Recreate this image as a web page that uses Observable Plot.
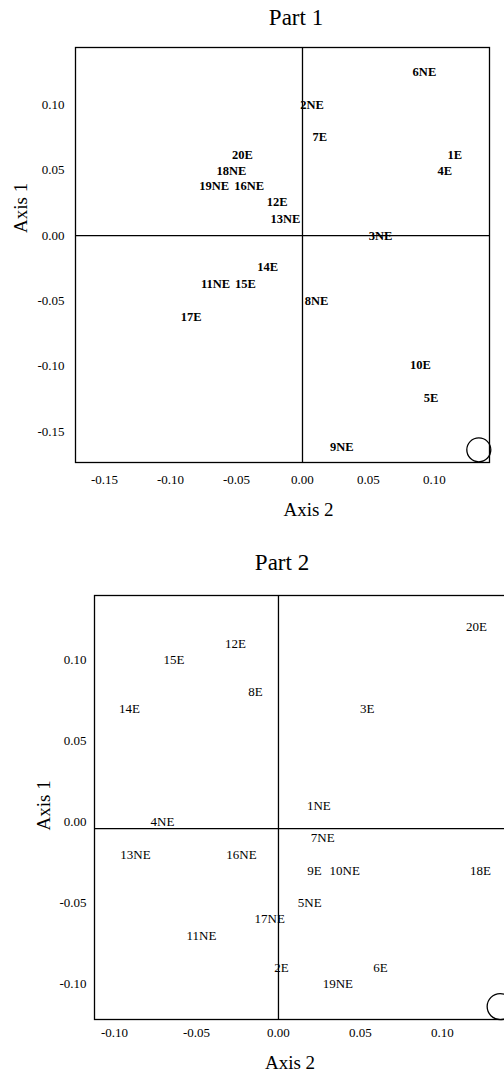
<!DOCTYPE html>
<html><head><meta charset="utf-8">
<script src="https://cdn.jsdelivr.net/npm/d3@7"></script>
<script src="https://cdn.jsdelivr.net/npm/@observablehq/plot@0.6"></script>
<style>
html,body{margin:0;padding:0;overflow:hidden;background:#fff;}
#root{position:relative;width:504px;height:1078px;overflow:hidden;font-family:'Liberation Serif','Times New Roman',serif;color:#000;}
.title{position:absolute;transform:translate(-50%,-50%);font-size:23px;white-space:nowrap;line-height:1;}
.chart{position:absolute;left:0;}
svg{max-width:none !important;}
</style></head><body><div id="root"></div>
<script>
// ---------- Part 1 data ----------
const part1Labels = ["6NE","2NE","7E","20E","1E","18NE","4E","19NE","16NE","12E","13NE","3NE","14E","11NE","15E","8NE","17E","10E","5E","9NE"];
const part1Axis2 = [0.0924,0.0073,0.0131,-0.0455,0.1154,-0.0538,0.1078,-0.0669,-0.0404,-0.0192,-0.0129,0.0591,-0.0263,-0.0659,-0.0432,0.0106,-0.0843,0.0894,0.0975,0.0298];
const part1Axis1 = [0.1256,0.1000,0.0753,0.0620,0.0620,0.0498,0.0498,0.0380,0.0380,0.0255,0.0128,0.0000,-0.0243,-0.0370,-0.0370,-0.0498,-0.0620,-0.0995,-0.1243,-0.1620];
const part1XTicks = [-0.15,-0.10,-0.05,0.00,0.05,0.10];
const part1YTicks = [-0.15,-0.10,-0.05,0.00,0.05,0.10];
const part1XDomain = [-0.1720,0.1417];
const part1YDomain = [-0.1738,0.1440];
const part1Origin = {x:0, y:0};
const part1Marker = [{x:0.1336, y:-0.1641}];

// ---------- Part 2 data ----------
const part2Labels = ["20E","12E","15E","8E","14E","3E","1NE","4NE","7NE","13NE","16NE","9E","10NE","18E","5NE","17NE","11NE","2E","6E","19NE"];
const part2Axis2 = [0.1207,-0.0262,-0.0638,-0.0140,-0.0909,0.0541,0.0246,-0.0707,0.0270,-0.0872,-0.0226,0.0220,0.0404,0.1232,0.0191,-0.0053,-0.0470,0.0018,0.0622,0.0362];
const part2Axis1 = [0.1204,0.1101,0.1004,0.0802,0.0700,0.0700,0.0103,0.0000,-0.0099,-0.0200,-0.0200,-0.0299,-0.0299,-0.0299,-0.0501,-0.0597,-0.0700,-0.0900,-0.0900,-0.0999];
const part2XTicks = [-0.10,-0.05,0.00,0.05,0.10];
const part2YTicks = [-0.10,-0.05,0.00,0.05,0.10];
const part2XDomain = [-0.1122,0.1409];
const part2YDomain = [-0.1219,0.1399];
const part2Origin = {x:0, y:-0.004};
const part2Marker = [{x:0.1352, y:-0.1139}];

const titles = ["Part 1","Part 2"];
const xLabel = "Axis 2";
const yLabel = "Axis 1";

const fmt = d => d.toFixed(2);
const root = document.getElementById("root");

function addTitle(text, left, top){
  const d = document.createElement("div");
  d.className = "title";
  d.textContent = text;
  d.style.left = left + "px";
  d.style.top = top + "px";
  root.appendChild(d);
}

function makeChart(o){
  const data = o.labels.map((l,i)=>({label:l, x:o.xs[i], y:o.ys[i]}));
  const svg = Plot.plot({
    width:o.width, height:o.height,
    marginTop:o.mt, marginBottom:o.mb, marginLeft:o.ml, marginRight:o.mr,
    style:{fontFamily:"'Liberation Serif','Times New Roman',serif", fontSize:"13px", background:"white", color:"black", maxWidth:"none"},
    x:{domain:o.xDomain, ticks:o.xTicks, tickFormat:fmt, tickSize:0, tickPadding:o.xPad, label:null},
    y:{domain:o.yDomain, ticks:o.yTicks, tickFormat:fmt, tickSize:0, tickPadding:o.yPad, label:null},
    marks:[
      Plot.frame({stroke:"black", strokeWidth:1.3}),
      Plot.ruleX([o.origin.x], {stroke:"black", strokeWidth:1.3}),
      Plot.ruleY([o.origin.y], {stroke:"black", strokeWidth:1.3}),
      Plot.dot(o.marker, {x:"x", y:"y", r:o.r, stroke:"black", fill:"none", strokeWidth:1.3}),
      Plot.text(data, {x:"x", y:"y", text:"label", fontSize:o.fs, fontWeight:o.fw, fill:"black"}),
      Plot.text([xLabel], {frameAnchor:"bottom", dx:o.xlDx, dy:o.xlDy, fontSize:19, fill:"black"}),
      Plot.text([yLabel], {frameAnchor:"left", dx:o.ylDx, dy:o.ylDy, rotate:-90, fontSize:19, fill:"black"})
    ]
  });
  svg.classList.add("chart");
  svg.style.top = o.top + "px";
  root.appendChild(svg);
}

addTitle(titles[0], 296, 17);
makeChart({labels:part1Labels, xs:part1Axis2, ys:part1Axis1, xDomain:part1XDomain, yDomain:part1YDomain,
  xTicks:part1XTicks, yTicks:part1YTicks, origin:part1Origin, marker:part1Marker, r:12,
  width:504, height:495, mt:13, mb:67, ml:75, mr:15, top:34, xPad:12, yPad:11,
  fs:12.5, fw:"bold", xlDx:26, xlDy:53, ylDx:-55, ylDy:-22});

addTitle(titles[1], 282, 562);
makeChart({labels:part2Labels, xs:part2Axis2, ys:part2Axis1, xDomain:part2XDomain, yDomain:part2YDomain,
  xTicks:part2XTicks, yTicks:part2YTicks, origin:part2Origin, marker:part2Marker, r:13,
  width:515, height:498, mt:15, mb:59, ml:94, mr:6, top:580, xPad:8, yPad:8,
  fs:13, fw:"normal", xlDx:-12, xlDy:49, ylDx:-51, ylDy:23});
</script></body></html>
